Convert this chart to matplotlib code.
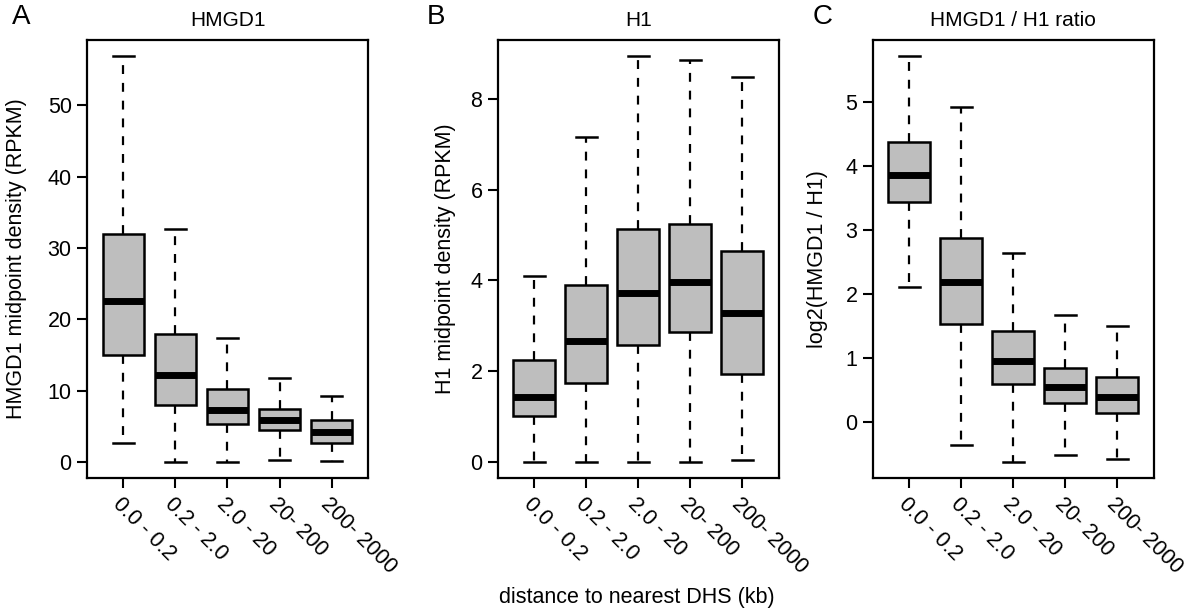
import matplotlib
matplotlib.use("Agg")
import matplotlib.pyplot as plt

plt.rcParams['font.family'] = ['Liberation Sans', 'DejaVu Sans']

groups = ["0.0 - 0.2", "0.2 - 2.0", "2.0 - 20", "20- 200", "200- 2000"]

# HMGD1 midpoint density (RPKM)
hmgd1_low = [2.6, 0.0, 0.0, 0.3, 0.1]
hmgd1_q1 = [15.0, 8.0, 5.3, 4.5, 2.7]
hmgd1_med = [22.5, 12.2, 7.3, 5.9, 4.2]
hmgd1_q3 = [31.9, 17.9, 10.2, 7.4, 5.8]
hmgd1_high = [56.9, 32.7, 17.3, 11.7, 9.2]

# H1 midpoint density (RPKM)
h1_low = [0.0, 0.0, 0.0, 0.0, 0.03]
h1_q1 = [1.01, 1.73, 2.58, 2.86, 1.94]
h1_med = [1.43, 2.67, 3.73, 3.97, 3.28]
h1_q3 = [2.25, 3.90, 5.13, 5.25, 4.64]
h1_high = [4.10, 7.17, 8.94, 8.85, 8.49]

# log2(HMGD1 / H1)
ratio_low = [2.12, -0.36, -0.62, -0.51, -0.58]
ratio_q1 = [3.44, 1.53, 0.59, 0.30, 0.14]
ratio_med = [3.87, 2.19, 0.96, 0.55, 0.40]
ratio_q3 = [4.38, 2.88, 1.42, 0.85, 0.71]
ratio_high = [5.72, 4.92, 2.65, 1.68, 1.51]

panels = [
    ("A", "HMGD1", "HMGD1 midpoint density (RPKM)", [0, 10, 20, 30, 40, 50],
     (hmgd1_low, hmgd1_q1, hmgd1_med, hmgd1_q3, hmgd1_high), 87, -0.215),
    ("B", "H1", "H1 midpoint density (RPKM)", [0, 2, 4, 6, 8],
     (h1_low, h1_q1, h1_med, h1_q3, h1_high), 497.7, -0.150),
    ("C", "HMGD1 / H1 ratio", "log2(HMGD1 / H1)", [0, 1, 2, 3, 4, 5],
     (ratio_low, ratio_q1, ratio_med, ratio_q3, ratio_high), 872.7, -0.160),
]
letter_x = [12, 427, 813]

W, H = 1200, 611
fig = plt.figure(figsize=(12, 6.11), dpi=100)

for k, (letter, title, ylabel, yticks, (lo, q1, med, q3, hi), left, ylab_x) in enumerate(panels):
    ax = fig.add_axes([left / W, 1 - 478 / H, 281 / W, (478 - 40) / H])
    stats = []
    for i in range(len(groups)):
        stats.append(dict(whislo=lo[i], q1=q1[i], med=med[i], q3=q3[i],
                          whishi=hi[i], fliers=[], label=groups[i]))
    ax.bxp(stats, positions=range(1, 6), widths=0.8, capwidths=0.4,
           patch_artist=True, showfliers=False,
           boxprops=dict(facecolor="#bebebe", edgecolor="black", linewidth=1.8),
           medianprops=dict(color="black", linewidth=5, solid_capstyle="butt"),
           whiskerprops=dict(color="black", linewidth=1.6, linestyle=(0, (4, 4))),
           capprops=dict(color="black", linewidth=1.8))
    ymin, ymax = min(lo), max(hi)
    pad = 0.04 * (ymax - ymin)
    ax.set_ylim(ymin - pad, ymax + pad)
    ax.set_xlim(0.3, 5.7)
    ax.set_yticks(yticks)
    ax.set_xticks(range(1, 6))
    ax.set_xticklabels(groups, rotation=-45, ha="left", va="top",
                       rotation_mode="anchor")
    ax.tick_params(axis="both", direction="out", length=7, width=1.5,
                   labelsize=15.5, pad=4)
    for sp in ax.spines.values():
        sp.set_linewidth(1.6)
    ax.set_ylabel(ylabel, fontsize=15.5)
    ax.yaxis.set_label_coords(ylab_x, 0.5)
    ax.set_title(title, fontsize=15, pad=10)
    fig.text(letter_x[k] / W, 1 - 4 / H, letter, fontsize=20, ha="left", va="top")

fig.text(637 / W, 1 - 598 / H, "distance to nearest DHS (kb)", fontsize=15.5,
         ha="center", va="center")

fig.savefig("out.png", dpi=100)
